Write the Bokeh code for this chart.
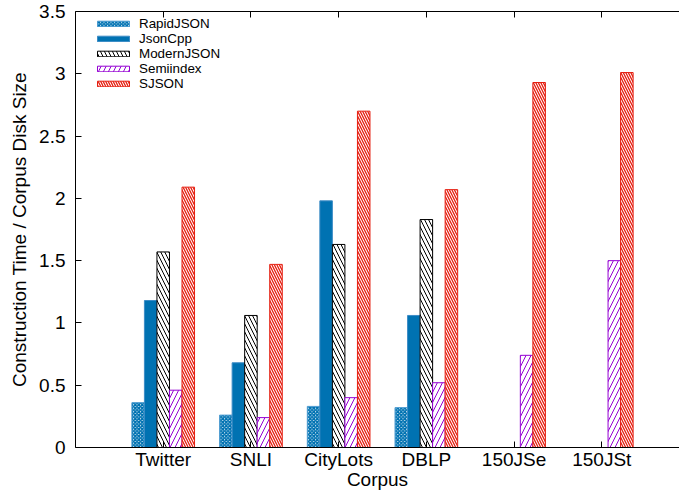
from bokeh.plotting import figure
from bokeh.models import (ColumnDataSource, Range1d, FixedTicker, LinearAxis,
                          NumeralTickFormatter, Legend, LegendItem)
from bokeh.transform import dodge
from bokeh.embed import file_html
from bokeh.resources import INLINE

categories = ["Twitter", "SNLI", "CityLots", "DBLP", "150JSe", "150JSt"]
rapidjson = [0.36, 0.26, 0.33, 0.32, None, None]
jsoncpp = [1.18, 0.68, 1.98, 1.06, None, None]
modernjson = [1.57, 1.06, 1.63, 1.83, None, None]
semiindex = [0.46, 0.24, 0.40, 0.52, 0.74, 1.50]
sjson = [2.09, 1.47, 2.70, 2.07, 2.93, 3.01]
y_ticks = [0, 0.5, 1, 1.5, 2, 2.5, 3, 3.5]

FONT = "Liberation Sans"

p = figure(width=679, height=492, x_range=Range1d(-1, 5.886), y_range=Range1d(0, 3.5),
           output_backend="svg", toolbar_location=None,
           min_border_left=75, min_border_right=0, min_border_top=11, min_border_bottom=45)
p.outline_line_color = None
p.grid.visible = False
p.background_fill_color = "white"
p.border_fill_color = "white"

series = [
    ("RapidJSON", rapidjson, -2, dict(fill_color="white", hatch_pattern="x", hatch_color="#0072B2",
                                      hatch_scale=3.5, hatch_weight=1.8, line_color="#4a9ad0")),
    ("JsonCpp", jsoncpp, -1, dict(fill_color="#0072B2", line_color="#3d8cc6")),
    ("ModernJSON", modernjson, 0, dict(fill_color="white", hatch_pattern="\\", hatch_color="black",
                                       hatch_scale=8, hatch_weight=1, line_color="black")),
    ("Semiindex", semiindex, 1, dict(fill_color="white", hatch_pattern="/", hatch_color="#9400D3",
                                     hatch_scale=10, hatch_weight=1, line_color="#9400D3")),
    ("SJSON", sjson, 2, dict(fill_color="white", hatch_pattern="\\", hatch_color="#E51E10",
                             hatch_scale=5, hatch_weight=1.3, line_color="#E51E10")),
]

bw = 1 / 7
items = []
for name, vals, off, style in series:
    xs = [i for i, v in enumerate(vals) if v is not None]
    tops = [v for v in vals if v is not None]
    src = ColumnDataSource(dict(x=xs, top=tops))
    r = p.vbar(x=dodge("x", off * bw, range=p.x_range), top="top", bottom=0, width=bw,
               source=src, line_width=1, **style)
    items.append(LegendItem(label=name, renderers=[r]))

xa = p.xaxis[0]
xa.ticker = FixedTicker(ticks=list(range(len(categories))))
xa.major_label_overrides = {i: c for i, c in enumerate(categories)}
xa.axis_label = "Corpus"
ya = p.yaxis[0]
ya.ticker = FixedTicker(ticks=y_ticks)
ya.formatter = NumeralTickFormatter(format="0.[0]")
ya.axis_label = "Construction Time / Corpus Disk Size"

for ax in (xa, ya):
    ax.major_tick_in = 6
    ax.major_tick_out = 0
    ax.minor_tick_line_color = None
    ax.axis_line_color = "black"
    ax.major_tick_line_color = "black"
    ax.major_label_text_font = FONT
    ax.major_label_text_font_size = "19px"
    ax.major_label_text_color = "black"
    ax.axis_label_text_font = FONT
    ax.axis_label_text_font_size = "19px"
    ax.axis_label_text_font_style = "normal"
    ax.axis_label_text_color = "black"

xa.major_label_standoff = 1
xa.axis_label_standoff = -4
ya.major_label_standoff = 10
ya.axis_label_standoff = 6

top = LinearAxis(ticker=FixedTicker(ticks=list(range(len(categories)))),
                 major_tick_in=6, major_tick_out=0, minor_tick_line_color=None,
                 axis_line_color="black", major_tick_line_color="black",
                 major_label_text_font_size="0px", major_label_standoff=0)
top.major_label_overrides = {i: "" for i in range(len(categories))}
p.add_layout(top, "above")

legend = Legend(items=items, location=(18, 356), padding=0, margin=0, spacing=0,
                glyph_width=40, glyph_height=7, label_height=12, label_standoff=6,
                label_text_font=FONT, label_text_font_size="13.4px", label_text_color="black",
                border_line_color=None, background_fill_alpha=0)
p.add_layout(legend, "center")

open("out.html", "w").write(file_html(p, INLINE))
